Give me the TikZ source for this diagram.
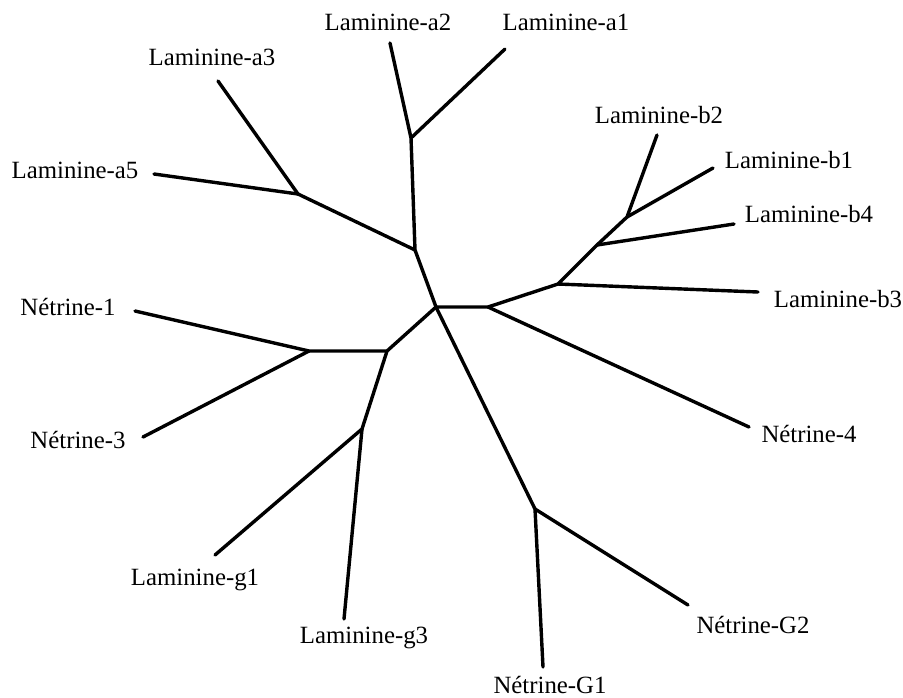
\documentclass[tikz,border=0pt]{standalone}
\usepackage{fontspec}
\setmainfont{Liberation Serif}
\usetikzlibrary{positioning}

\begin{document}
\begin{tikzpicture}[x=0.5pt,y=-0.5pt,branch/.style={line width=1.7pt,line cap=round,line join=miter},
		leaf/.style={font=\fontsize{12.4}{14}\selectfont,inner sep=0pt}]
		\useasboundingbox (0,0) rectangle (903,697);
		% inner nodes
		\coordinate (c) at (436,307);
		\coordinate (r) at (488,307);
		\coordinate (u) at (415,250);
		\coordinate (a12) at (411,138);
		\coordinate (a35) at (298,194);
		\coordinate (bb) at (558,284);
		\coordinate (b2n) at (597,245);
		\coordinate (b3n) at (627,217);
		\coordinate (l) at (387,351);
		\coordinate (n13) at (309,351);
		\coordinate (gn) at (362,429);
		\coordinate (ng) at (535,509);
		% leaves
		\coordinate (la2) at (390,43);
		\coordinate (la1) at (505,49);
		\coordinate (la3) at (218,81);
		\coordinate (la5) at (154,174);
		\coordinate (lb2) at (657,135);
		\coordinate (lb1) at (713,168);
		\coordinate (lb4) at (734,224);
		\coordinate (lb3) at (758,292);
		\coordinate (n4) at (749,427);
		\coordinate (ng2) at (688,605);
		\coordinate (ng1) at (543,667);
		\coordinate (lg3) at (344,619);
		\coordinate (lg1) at (215,555);
		\coordinate (n3) at (143,437);
		\coordinate (n1) at (135,311);

		\draw[branch] (c) -- (u) -- (a12) -- (la2);
		\draw[branch] (a12) -- (la1);
		\draw[branch] (u) -- (a35) -- (la3);
		\draw[branch] (a35) -- (la5);
		\draw[branch] (c) -- (r) -- (bb) -- (b2n) -- (b3n) -- (lb2);
		\draw[branch] (b3n) -- (lb1);
		\draw[branch] (b2n) -- (lb4);
		\draw[branch] (bb) -- (lb3);
		\draw[branch] (r) -- (n4);
		\draw[branch] (c) -- (ng) -- (ng1);
		\draw[branch] (ng) -- (ng2);
		\draw[branch] (c) -- (l) -- (n13) -- (n1);
		\draw[branch] (n13) -- (n3);
		\draw[branch] (l) -- (gn) -- (lg1);
		\draw[branch] (gn) -- (lg3);

		\node[leaf] (ta2) at (388,22) {Laminine-a2};
		\node[leaf] (ta1) at (566,22) {Laminine-a1};
		\node[leaf] (ta3) at (212,57) {Laminine-a3};
		\node[leaf] (ta5) at (75,170) {Laminine-a5};
		\node[leaf] (tb2) at (659,115) {Laminine-b2};
		\node[leaf] (tb1) at (789,160) {Laminine-b1};
		\node[leaf] (tb4) at (809,214) {Laminine-b4};
		\node[leaf] (tb3) at (838,299) {Laminine-b3};
		\node[leaf] (t4) at (809,434) {Nétrine-4};
		\node[leaf] (tg2) at (753,625) {Nétrine-G2};
		\node[leaf] (tg1) at (550,685) {Nétrine-G1};
		\node[leaf] (tl3) at (364,638) {Laminine-g3};
		\node[leaf] (tl1) at (195,580) {Laminine-g1};
		\node[leaf] (t3) at (78,440) {Nétrine-3};
		\node[leaf] (t1) at (68,307) {Nétrine-1};
	\end{tikzpicture}
\end{document}
